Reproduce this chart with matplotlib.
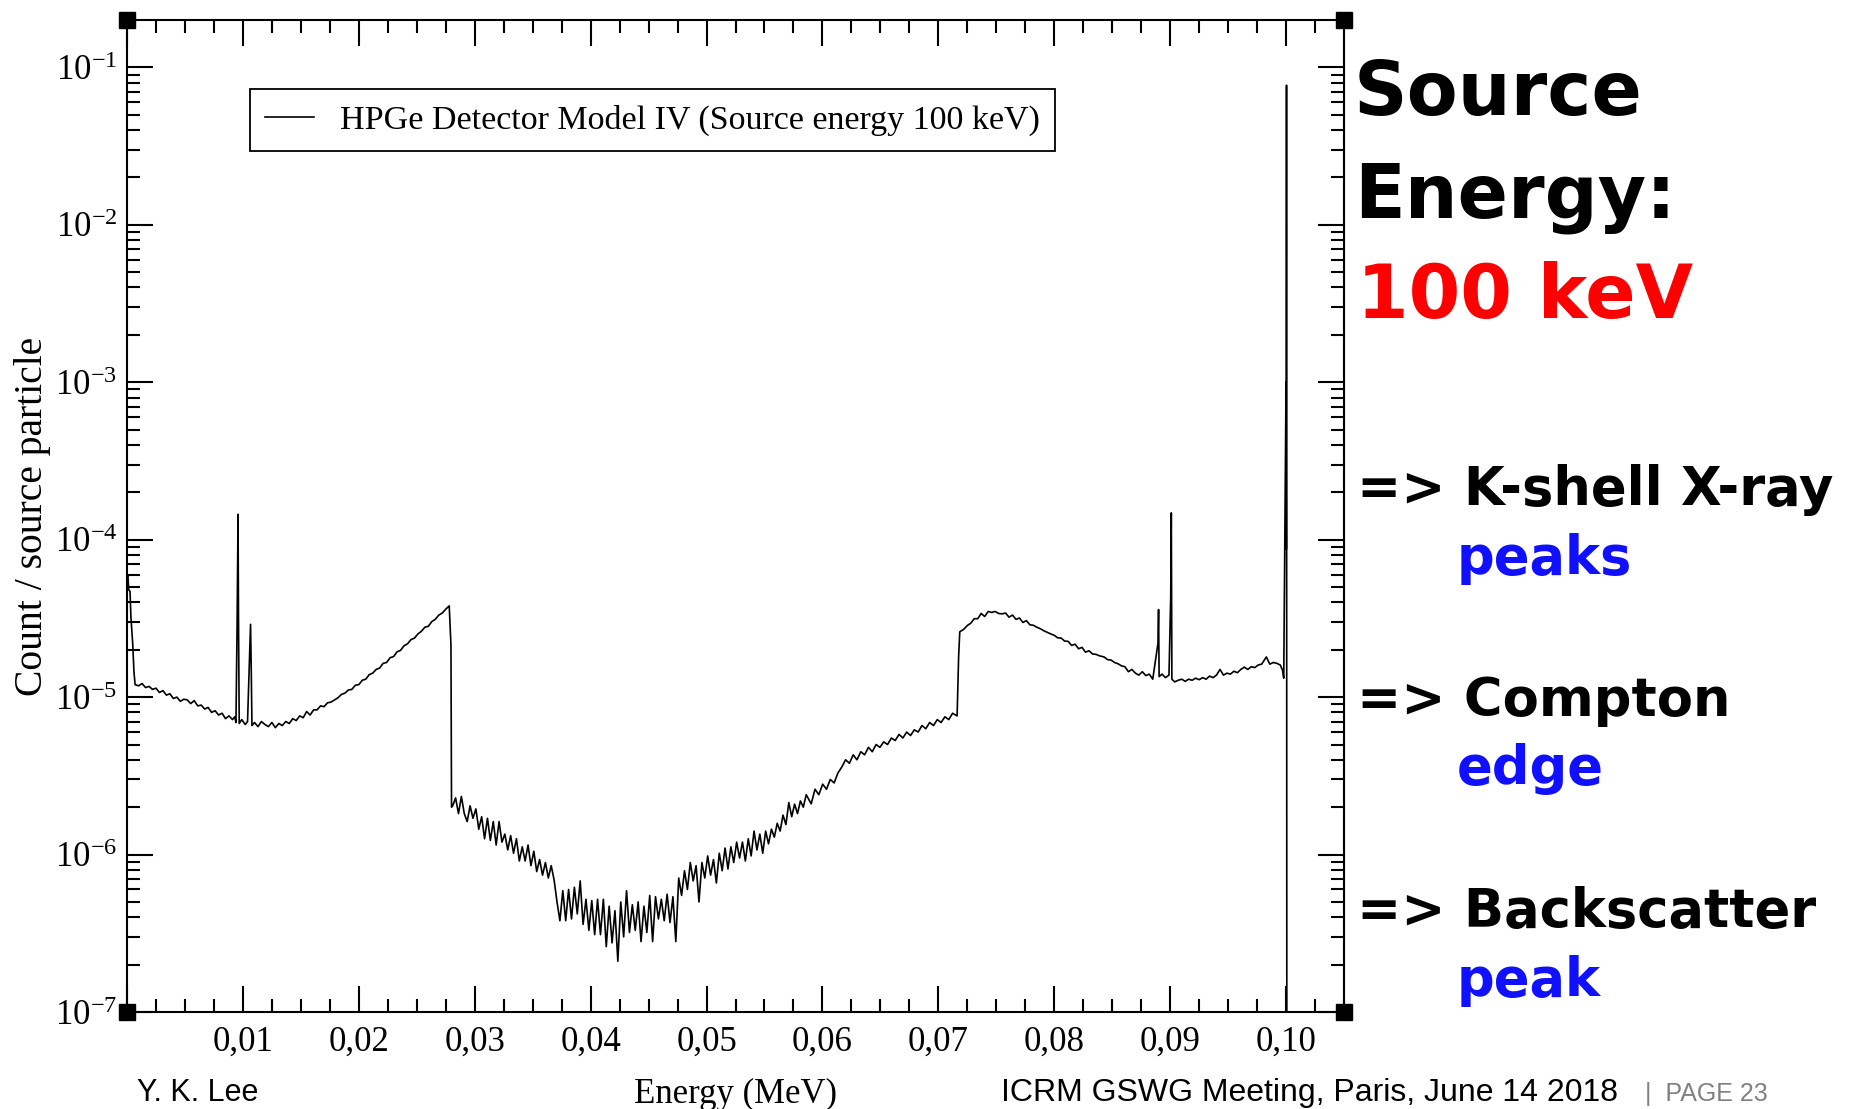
import math

import matplotlib

matplotlib.use('Agg')  # noqa: E402
import matplotlib.pyplot as plt  # noqa: E402
from matplotlib.ticker import FixedLocator, FuncFormatter, MultipleLocator, NullFormatter  # noqa: E402

# ---- spectrum (energy in MeV, count / source particle)
# low-energy tail from 0 up to the first K-shell peaks
tail_e = [0.0, 0.00008, 0.00015, 0.00026, 0.00034, 0.00049, 0.0006, 0.0007,
          0.0010, 0.0013, 0.0016, 0.0019, 0.0022, 0.0025, 0.0028, 0.0031,
          0.0034, 0.0037, 0.0040, 0.0043, 0.0046, 0.0049, 0.0052, 0.0055,
          0.0058, 0.0061, 0.0064, 0.0067, 0.0070, 0.0073, 0.0076, 0.0079,
          0.0082, 0.0085, 0.0088, 0.0091, 0.0093, 0.0094]
tail_c = [5.8e-5, 5.9e-5, 4.8e-5, 4.7e-5, 3.2e-5, 2.2e-5, 1.45e-5, 1.2e-5,
          1.18e-5, 1.22e-5, 1.15e-5, 1.17e-5, 1.12e-5, 1.14e-5, 1.07e-5, 1.10e-5,
          1.03e-5, 1.05e-5, 9.8e-6, 1.0e-5, 9.4e-6, 9.7e-6, 9.6e-6, 9.1e-6,
          9.5e-6, 8.8e-6, 8.9e-6, 8.4e-6, 8.6e-6, 8.0e-6, 8.2e-6, 7.7e-6,
          7.9e-6, 7.3e-6, 7.6e-6, 7.2e-6, 7.5e-6, 6.9e-6]

# K-shell X-ray peaks around 10 keV
kx_low_e = [0.0095, 0.00958, 0.00962, 0.00968, 0.0099, 0.0102, 0.0104,
            0.01066, 0.01072, 0.01078, 0.0110, 0.0113, 0.0116, 0.0119]
kx_low_c = [2.95e-5, 1.45e-4, 3.2e-5, 6.8e-6, 7.2e-6, 6.7e-6, 7.0e-6,
            2.9e-5, 1.5e-5, 6.6e-6, 6.9e-6, 6.5e-6, 7.0e-6, 6.7e-6]

# rise up to the Compton edge (~28 keV)
rise_e = [0.0122, 0.0125, 0.0128, 0.0131, 0.0134, 0.0137, 0.0140, 0.0143,
          0.0146, 0.0149, 0.0152, 0.0155, 0.0158, 0.0161, 0.0164, 0.0167,
          0.0170, 0.0173, 0.0176, 0.0179, 0.0182, 0.0185, 0.0188, 0.0191,
          0.0194, 0.0197, 0.0200, 0.0203, 0.0206, 0.0209, 0.0212, 0.0215,
          0.0218, 0.0221, 0.0224, 0.0227, 0.0230, 0.0233, 0.0236, 0.0239,
          0.0242, 0.0245, 0.0248, 0.0251, 0.0254, 0.0257, 0.0260, 0.0263,
          0.0266, 0.0269, 0.0272, 0.0275, 0.0278, 0.02795, 0.0280]
rise_c = [6.5e-6, 6.9e-6, 6.4e-6, 6.8e-6, 6.6e-6, 7.0e-6, 6.8e-6, 7.3e-6,
          7.1e-6, 7.6e-6, 7.4e-6, 8.1e-6, 7.7e-6, 8.3e-6, 8.3e-6, 8.8e-6,
          8.7e-6, 9.2e-6, 9.3e-6, 9.6e-6, 9.9e-6, 1.04e-5, 1.06e-5, 1.11e-5,
          1.12e-5, 1.19e-5, 1.20e-5, 1.28e-5, 1.30e-5, 1.39e-5, 1.42e-5, 1.50e-5,
          1.53e-5, 1.64e-5, 1.66e-5, 1.78e-5, 1.81e-5, 1.94e-5, 1.98e-5, 2.12e-5,
          2.18e-5, 2.32e-5, 2.37e-5, 2.52e-5, 2.62e-5, 2.78e-5, 2.82e-5, 3.02e-5,
          3.12e-5, 3.32e-5, 3.42e-5, 3.62e-5, 3.8e-5, 2.15e-5, 2.0e-6]

# noisy valley between the two edges
valley_e = [0.02810, 0.02835, 0.02860, 0.02885, 0.02910, 0.02935, 0.02960, 0.02985,
            0.03010, 0.03035, 0.03060, 0.03085, 0.03110, 0.03135, 0.03160, 0.03185,
            0.03210, 0.03235, 0.03260, 0.03285, 0.03310, 0.03335, 0.03360, 0.03385,
            0.03410, 0.03435, 0.03460, 0.03485, 0.03510, 0.03535, 0.03560, 0.03585,
            0.03610, 0.03635, 0.03660, 0.03685, 0.03710, 0.03735, 0.03760, 0.03785,
            0.03810, 0.03835, 0.03860, 0.03885, 0.03910, 0.03935, 0.03960, 0.03985,
            0.04010, 0.04035, 0.04060, 0.04085, 0.04110, 0.04135, 0.04160, 0.04185,
            0.04210, 0.04235, 0.04260, 0.04285, 0.04310, 0.04335, 0.04360, 0.04385,
            0.04410, 0.04435, 0.04460, 0.04485, 0.04510, 0.04535, 0.04560, 0.04585,
            0.04610, 0.04635, 0.04660, 0.04685, 0.04710, 0.04735, 0.04760, 0.04785,
            0.04810, 0.04835, 0.04860, 0.04885, 0.04910, 0.04935, 0.04960, 0.04985,
            0.05010, 0.05035, 0.05060, 0.05085, 0.05110, 0.05135, 0.05160, 0.05185,
            0.05210, 0.05235, 0.05260, 0.05285, 0.05310, 0.05335, 0.05360, 0.05385,
            0.05410, 0.05435, 0.05460, 0.05485, 0.05510, 0.05535, 0.05560, 0.05585,
            0.05610, 0.05635, 0.05660, 0.05685, 0.05710, 0.05735, 0.05760, 0.05785,
            0.05810, 0.05835, 0.05860, 0.05903, 0.05936, 0.05969, 0.06002, 0.06035,
            0.06068, 0.06101, 0.06134, 0.06167, 0.06200, 0.06233, 0.06265, 0.06298,
            0.06331, 0.06364, 0.06397, 0.06430, 0.06463, 0.06496, 0.06529, 0.06562,
            0.06595, 0.06628, 0.06661, 0.06694, 0.06727, 0.06760, 0.06793, 0.06826,
            0.06859, 0.06892, 0.06925, 0.06958, 0.06991, 0.07024, 0.07057, 0.07090,
            0.07123, 0.07162]
valley_c = [2.04e-6, 2.29e-6, 1.82e-6, 2.34e-6, 1.82e-6, 1.62e-6, 2.04e-6, 1.70e-6,
            1.95e-6, 1.45e-6, 1.74e-6, 1.26e-6, 1.70e-6, 1.23e-6, 1.62e-6, 1.15e-6,
            1.62e-6, 1.20e-6, 1.35e-6, 1.07e-6, 1.32e-6, 1.02e-6, 1.26e-6, 9.1e-7,
            1.12e-6, 9.1e-7, 1.15e-6, 8.5e-7, 1.05e-6, 7.8e-7, 9.3e-7, 7.4e-7,
            8.9e-7, 7.1e-7, 8.5e-7, 6.9e-7, 5.0e-7, 3.8e-7, 5.9e-7, 3.8e-7,
            6.0e-7, 3.9e-7, 6.2e-7, 4.2e-7, 6.8e-7, 3.6e-7, 5.2e-7, 3.3e-7,
            5.1e-7, 3.1e-7, 5.2e-7, 3.1e-7, 5.2e-7, 2.6e-7, 4.7e-7, 2.75e-7,
            4.4e-7, 2.1e-7, 5.0e-7, 3.0e-7, 5.9e-7, 3.2e-7, 4.8e-7, 3.3e-7,
            5.0e-7, 2.8e-7, 4.7e-7, 3.2e-7, 5.5e-7, 2.8e-7, 5.4e-7, 3.9e-7,
            5.2e-7, 3.8e-7, 5.6e-7, 3.7e-7, 5.4e-7, 2.8e-7, 7.1e-7, 5.5e-7,
            7.9e-7, 6.0e-7, 8.9e-7, 6.8e-7, 8.5e-7, 5.0e-7, 8.9e-7, 7.1e-7,
            9.8e-7, 7.4e-7, 9.3e-7, 6.6e-7, 1.02e-6, 7.9e-7, 1.10e-6, 8.1e-7,
            1.12e-6, 8.9e-7, 1.20e-6, 9.5e-7, 1.20e-6, 9.1e-7, 1.26e-6, 9.8e-7,
            1.41e-6, 1.07e-6, 1.35e-6, 1.02e-6, 1.41e-6, 1.17e-6, 1.45e-6, 1.29e-6,
            1.58e-6, 1.41e-6, 1.78e-6, 1.55e-6, 2.14e-6, 1.74e-6, 2.09e-6, 1.82e-6,
            2.19e-6, 2.0e-6, 2.4e-6, 2.1e-6, 2.6e-6, 2.4e-6, 2.8e-6, 2.6e-6,
            3.0e-6, 2.85e-6, 3.3e-6, 3.6e-6, 4.0e-6, 3.8e-6, 4.3e-6, 4.0e-6,
            4.5e-6, 4.3e-6, 4.8e-6, 4.5e-6, 5.0e-6, 4.8e-6, 5.2e-6, 5.0e-6,
            5.5e-6, 5.3e-6, 5.8e-6, 5.5e-6, 6.0e-6, 5.7e-6, 6.2e-6, 6.0e-6,
            6.6e-6, 6.3e-6, 6.9e-6, 6.6e-6, 7.2e-6, 6.9e-6, 7.5e-6, 7.2e-6,
            7.9e-6, 7.6e-6]

# backscatter hump after the second edge
hump_e = [0.07175, 0.07185, 0.0722, 0.0725, 0.0728, 0.0731, 0.0734, 0.0737,
          0.0740, 0.0743, 0.0746, 0.0749, 0.0752, 0.0755, 0.0758, 0.0761,
          0.0764, 0.0767, 0.0770, 0.0773, 0.0776, 0.0779, 0.0782, 0.0785,
          0.0788, 0.0791, 0.0794, 0.0797, 0.0800, 0.0803, 0.0806, 0.0809,
          0.0812, 0.0815, 0.0818, 0.0821, 0.0824, 0.0827, 0.0830, 0.0833,
          0.0836, 0.0839, 0.0843, 0.0846, 0.0849, 0.0852, 0.0855, 0.0858,
          0.0861, 0.0864, 0.0867, 0.0870, 0.0873, 0.0876, 0.0879, 0.0882,
          0.0885]
hump_c = [1.8e-5, 2.6e-5, 2.7e-5, 2.85e-5, 2.95e-5, 3.15e-5, 3.15e-5, 3.4e-5,
          3.25e-5, 3.5e-5, 3.45e-5, 3.5e-5, 3.4e-5, 3.38e-5, 3.42e-5, 3.22e-5,
          3.32e-5, 3.12e-5, 3.18e-5, 2.98e-5, 3.06e-5, 2.88e-5, 2.86e-5, 2.78e-5,
          2.72e-5, 2.64e-5, 2.58e-5, 2.52e-5, 2.47e-5, 2.38e-5, 2.37e-5, 2.27e-5,
          2.26e-5, 2.13e-5, 2.17e-5, 2.03e-5, 2.07e-5, 1.93e-5, 1.97e-5, 1.88e-5,
          1.87e-5, 1.83e-5, 1.8e-5, 1.73e-5, 1.72e-5, 1.66e-5, 1.63e-5, 1.58e-5,
          1.56e-5, 1.45e-5, 1.5e-5, 1.42e-5, 1.38e-5, 1.45e-5, 1.37e-5, 1.4e-5,
          1.3e-5]

# K-shell X-ray peaks near 90 keV, flat part and the 100 keV photopeak
kx_high_e = [0.08895, 0.0890, 0.08905, 0.0893, 0.0896, 0.0899, 0.09005,
             0.0901, 0.09015, 0.0904, 0.0907, 0.0910, 0.0913, 0.0916, 0.0919,
             0.0922, 0.0925, 0.0928, 0.0931, 0.0934, 0.0937, 0.0940, 0.0943,
             0.0946, 0.0949, 0.0952, 0.0955, 0.0958, 0.0961, 0.0964, 0.0967,
             0.0970, 0.0973, 0.0976, 0.0979, 0.0983, 0.0986, 0.0989, 0.0992,
             0.0995, 0.0997, 0.0998]
kx_high_c = [2.2e-5, 3.6e-5, 1.35e-5, 1.4e-5, 1.33e-5, 1.38e-5, 4.4e-5,
             1.48e-4, 1.3e-5, 1.25e-5, 1.28e-5, 1.3e-5, 1.26e-5, 1.3e-5, 1.28e-5,
             1.32e-5, 1.29e-5, 1.33e-5, 1.3e-5, 1.36e-5, 1.33e-5, 1.38e-5, 1.5e-5,
             1.38e-5, 1.42e-5, 1.4e-5, 1.46e-5, 1.43e-5, 1.5e-5, 1.55e-5, 1.5e-5,
             1.56e-5, 1.54e-5, 1.6e-5, 1.62e-5, 1.8e-5, 1.62e-5, 1.66e-5, 1.64e-5,
             1.6e-5, 1.48e-5, 1.32e-5]

photopeak_e = [0.10000, 0.10002, 0.10004, 0.10008]
photopeak_c = [1.0e-3, 8.7e-5, 7.7e-2, 1e-10]

energy_mev = tail_e + kx_low_e + rise_e + valley_e + hump_e + kx_high_e + photopeak_e
counts = tail_c + kx_low_c + rise_c + valley_c + hump_c + kx_high_c + photopeak_c

legend_label = 'HPGe Detector Model IV (Source energy 100 keV)'
y_decades = [1e-7, 1e-6, 1e-5, 1e-4, 1e-3, 1e-2, 1e-1]
y_minor = [m * d for d in [1e-7, 1e-6, 1e-5, 1e-4, 1e-3, 1e-2, 1e-1] for m in range(2, 10)]

W, H = 1863, 1109

plt.rcParams['font.family'] = ['Liberation Serif', 'DejaVu Serif']
plt.rcParams['mathtext.default'] = 'regular'

fig = plt.figure(figsize=(W / 100, H / 100), dpi=100)
ax = fig.add_axes([127 / W, 1 - 1012 / H, (1344 - 127) / W, (1012 - 20) / H])

ax.plot(energy_mev, counts, color='black', lw=1.2, label=legend_label)

ax.set_yscale('log')
ax.set_xlim(0, 0.105)
ax.set_ylim(1e-7, 0.2)

ax.xaxis.set_major_locator(MultipleLocator(0.01))
ax.xaxis.set_minor_locator(MultipleLocator(0.0025))
ax.xaxis.set_major_formatter(
    FuncFormatter(lambda v, _: '' if v < 0.005 else f'{v:.2f}'.replace('.', ',')))
ax.yaxis.set_major_locator(FixedLocator(y_decades))
ax.yaxis.set_minor_locator(FixedLocator([v for v in y_minor if v < 0.2]))
ax.yaxis.set_major_formatter(
    FuncFormatter(lambda v, _: r'$\mathregular{10^{%d}}$' % round(math.log10(v))))
ax.yaxis.set_minor_formatter(NullFormatter())

ax.tick_params(which='both', direction='in', top=True, right=True,
               width=1.5, colors='black', labelsize=25)
ax.tick_params(which='major', length=19)
ax.tick_params(which='minor', length=9.5)
ax.tick_params(axis='x', which='major', pad=10)
ax.tick_params(axis='y', which='major', pad=7)
for s in ax.spines.values():
    s.set_linewidth(1.5)

# xmgrace-style corner squares
ax.plot([0, 1, 0, 1], [0, 0, 1, 1], 's', ms=11, color='black',
        transform=ax.transAxes, clip_on=False)

ax.set_xlabel('Energy (MeV)', fontsize=25, labelpad=14)
ax.set_ylabel('Count / source particle', fontsize=28.5, labelpad=3)

leg = ax.legend(loc='upper left', bbox_to_anchor=(0.1007, 0.930),
                borderaxespad=0, fontsize=24.5, fancybox=False, framealpha=1,
                handlelength=1.45, handletextpad=0.75, borderpad=0.45)
leg.get_frame().set_edgecolor('black')
leg.get_frame().set_linewidth(1.3)

# slide text on the right
big = dict(fontsize=53.5, fontweight='bold', family='DejaVu Sans')
mid = dict(fontsize=38, fontweight='bold', family='DejaVu Sans')
fig.text(1354 / W, 1 - 115 / H, 'Source', color='black', **big)
fig.text(1354 / W, 1 - 217 / H, 'Energy:', color='black', **big)
fig.text(1357 / W, 1 - 318 / H, '100 keV', color='#ff0000', **big)
fig.text(1357 / W, 1 - 505 / H, '=> K-shell X-ray', color='black', **mid)
fig.text(1457 / W, 1 - 574 / H, 'peaks', color='#1010ff', **mid)
fig.text(1357 / W, 1 - 716 / H, '=> Compton', color='black', **mid)
fig.text(1457 / W, 1 - 784 / H, 'edge', color='#1010ff', **mid)
fig.text(1357 / W, 1 - 927 / H, '=> Backscatter', color='black', **mid)
fig.text(1457 / W, 1 - 996 / H, 'peak', color='#1010ff', **mid)

# footer
foot = dict(family='Liberation Sans', va='baseline')
fig.text(137 / W, 1 - 1101 / H, 'Y. K. Lee', fontsize=22, color='black', **foot)
fig.text(1001 / W, 1 - 1101 / H, 'ICRM GSWG Meeting, Paris, June 14 2018',
         fontsize=23, color='black', **foot)
fig.text(1645 / W, 1 - 1101 / H, '|  PAGE 23', fontsize=18, color='#808080', **foot)

fig.savefig('out.png', dpi=100)
